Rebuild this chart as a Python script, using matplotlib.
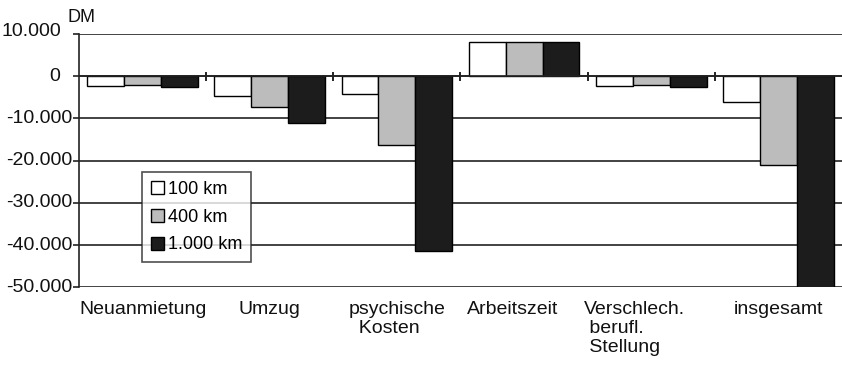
import matplotlib

matplotlib.use("Agg")
import matplotlib.pyplot as plt
import matplotlib.transforms as mtransforms
import numpy as np

plt.rcParams["font.family"] = ["Liberation Sans", "DejaVu Sans"]

# Kosten eines Umzugs je nach Entfernung (DM)
categories = [
    "Neuanmietung",
    "Umzug",
    "psychische\n  Kosten",
    "Arbeitszeit",
    "Verschlech.\n berufl.\n Stellung",
    "insgesamt",
]
series_names = ["100 km", "400 km", "1.000 km"]
km100 = [-2400, -4800, -4300, 8000, -2400, -6000]
km400 = [-2100, -7400, -16400, 8000, -2100, -21000]
km1000 = [-2500, -11100, -41500, 8000, -2500, -52000]
yticks = [10000, 0, -10000, -20000, -30000, -40000, -50000]
ytick_labels = ["10.000", "0", "-10.000", "-20.000", "-30.000", "-40.000", "-50.000"]

colors = ["white", "#bcbcbc", "#1c1c1c"]
# horizontal nudges (points) for a few labels
ylabel_dx = {10000: -8, 0: -9}
label_dx = [0, 0, 0, -8, -12, 0]

fig = plt.figure(figsize=(8.42, 3.66), dpi=100)
ax = fig.add_axes([79 / 842, 1 - 287.3 / 366, 763 / 842, (287.3 - 34) / 366])

x = np.arange(len(categories))
width = 0.29
for i, (vals, c, name) in enumerate(zip([km100, km400, km1000], colors, series_names)):
    ax.bar(x + (i - 1) * width, vals, width, color=c, edgecolor="black",
           linewidth=1.0, label=name, zorder=3)

ax.set_xlim(-0.5, len(categories) - 0.5)
ax.set_ylim(-50000, 10000)

# horizontal grid lines
for v in yticks:
    ax.axhline(v, color="#222222", linewidth=1.2, zorder=1)
ax.axhline(0, color="#222222", linewidth=1.2, zorder=4)

# small ticks on the zero line at category boundaries
for b in np.arange(0.5, len(categories) - 0.5, 1.0):
    ax.plot([b, b], [-800, 800], color="#222222", linewidth=1.4, zorder=4)

for side in ["top", "right", "bottom"]:
    ax.spines[side].set_visible(False)
ax.spines["left"].set_linewidth(1.2)
ax.spines["left"].set_color("#222222")

ax.set_xticks([])
ax.set_yticks(yticks)
ax.set_yticklabels([])
ax.tick_params(axis="y", length=4, width=1.2, color="#222222")

ytrans = ax.get_yaxis_transform()
for v, lab in zip(yticks, ytick_labels):
    off = mtransforms.offset_copy(ytrans, fig=fig, x=-4.5 + ylabel_dx.get(v, 0),
                                  y=2 if v == 10000 else 0, units="points")
    ax.text(0, v, lab, transform=off, ha="right", va="center", fontsize=14,
            color="#111111")

ax.text(0, 10000, "DM", transform=mtransforms.offset_copy(
    ytrans, fig=fig, x=-8.5, y=12, units="points"),
    ha="left", va="center", fontsize=13, color="#111111")

xtrans = ax.get_xaxis_transform()
for xi, lab, dx in zip(x, categories, label_dx):
    off = mtransforms.offset_copy(xtrans, fig=fig, x=dx, y=-10, units="points")
    ax.text(xi, 0, lab, transform=off, ha="center", va="top", fontsize=14,
            linespacing=1.15, color="#111111", multialignment="left")

leg = ax.legend(
    loc="upper left",
    bbox_to_anchor=((142.3 - 79) / 763, 1 - (171.7 - 34) / 253.3),
    fontsize=13,
    frameon=True,
    fancybox=False,
    handlelength=0.72,
    handleheight=0.72,
    handletextpad=0.2,
    labelspacing=0.6,
    borderpad=0.5,
    borderaxespad=0,
)
leg.get_frame().set_edgecolor("#222222")
leg.get_frame().set_linewidth(1.2)
leg.set_zorder(5)

fig.savefig("out.png", dpi=100)
plt.close(fig)
